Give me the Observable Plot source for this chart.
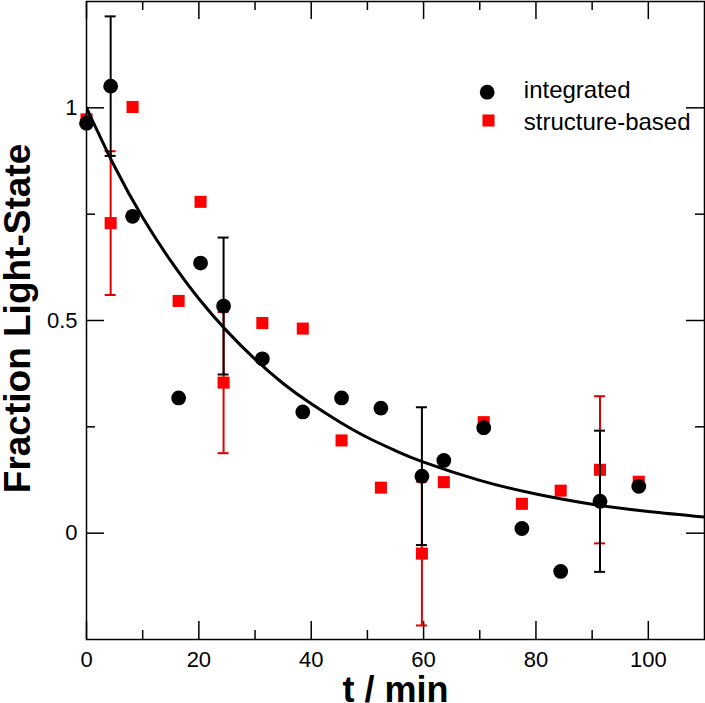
<!DOCTYPE html>
<html><head><meta charset="utf-8">
<script src="https://cdn.jsdelivr.net/npm/d3@7"></script>
<script src="https://cdn.jsdelivr.net/npm/@observablehq/plot@0.6"></script>
<style>body{margin:0;background:#fff}</style>
</head><body><div id="chart"></div>
<script>
// ---- data ----
const times = [0, 4.3, 8.2, 16.4, 20.3, 24.4, 31.3, 38.5, 45.4, 52.4, 59.7, 63.6, 70.7, 77.5, 84.4, 91.4, 98.3];
const integrated = [0.964, 1.051, 0.745, 0.318, 0.635, 0.534, 0.410, 0.285, 0.318, 0.294, 0.134, 0.171, 0.248, 0.011, -0.090, 0.075, 0.110];
const structureBased = [0.973, 0.729, 1.002, 0.546, 0.779, 0.354, 0.494, 0.481, 0.218, 0.107, -0.048, 0.120, 0.261, 0.069, 0.100, 0.149, 0.121];
const integratedErr = [null, 0.164, null, null, null, 0.161, null, null, null, null, 0.162, null, null, null, null, 0.166, null];
const structureErr = [null, 0.169, null, null, null, 0.166, null, null, null, null, 0.169, null, null, null, null, 0.173, null];
const fitT = [0, 5, 10, 15, 20, 25, 30, 35, 40, 45, 50, 55, 60, 70, 80, 90, 100, 110];
const fitF = [1.00, 0.862, 0.742, 0.640, 0.551, 0.475, 0.409, 0.352, 0.304, 0.262, 0.225, 0.194, 0.167, 0.124, 0.092, 0.068, 0.051, 0.038];
const xMajor = [0, 20, 40, 60, 80, 100];
const xMinor = [10, 30, 50, 70, 90];
const yMajor = [0, 0.5, 1];
const yMinor = [0.25, 0.75];
const seriesNames = ["integrated", "structure-based"];
const xLabel = "t / min";
const yLabel = "Fraction Light-State";

// ---- tables ----
const rows = times.map((t, i) => ({t, integ: integrated[i], struct: structureBased[i], ie: integratedErr[i], se: structureErr[i]}));
const iErr = rows.filter(d => d.ie != null);
const sErr = rows.filter(d => d.se != null);
const fit = fitT.map((t, i) => ({t, f: fitF[i]}));

const W = 705, H = 703, mL = 86, mR = 1, mT = 1, mB = 64;
const pw = W - mL - mR, ph = H - mT - mB;
const RED = "#ff0000", REDBAR = "#e00000";
const FONT = "'Liberation Sans', Arial, Helvetica, sans-serif";
const tk = {stroke: "black", strokeWidth: 1.5};

function errMarks(data, yk, ek, color) {
  return [
    Plot.ruleX(data, {x: "t", y1: d => d[yk] - d[ek], y2: d => d[yk] + d[ek], stroke: color, strokeWidth: 2}),
    Plot.ruleY(data, {y: d => d[yk] + d[ek], x1: "t", x2: "t", insetLeft: -5.5, insetRight: -5.5, stroke: color, strokeWidth: 2}),
    Plot.ruleY(data, {y: d => d[yk] - d[ek], x1: "t", x2: "t", insetLeft: -5.5, insetRight: -5.5, stroke: color, strokeWidth: 2})
  ];
}

const chart = Plot.plot({
  width: W, height: H,
  marginLeft: mL, marginRight: mR, marginTop: mT, marginBottom: mB,
  style: {fontFamily: FONT, fontSize: "22px", color: "black", background: "white"},
  x: {domain: [0, 110], label: null},
  y: {domain: [-0.25, 1.25], label: null},
  marks: [
    Plot.axisX({ticks: xMajor, tickSize: 0, tickPadding: 12, label: null, fill: "black", tickFormat: d => String(d)}),
    Plot.axisY({ticks: yMajor, tickSize: 0, tickPadding: 9, label: null, fill: "black", tickFormat: d => String(d)}),
    // inward ticks on all four sides
    Plot.tickX(xMajor, {x: d => d, insetTop: ph - 18, ...tk}),
    Plot.tickX(xMinor, {x: d => d, insetTop: ph - 9, ...tk}),
    Plot.tickX(xMajor, {x: d => d, insetBottom: ph - 18, ...tk}),
    Plot.tickX(xMinor, {x: d => d, insetBottom: ph - 9, ...tk}),
    Plot.tickY(yMajor, {y: d => d, insetRight: pw - 18, ...tk}),
    Plot.tickY(yMinor, {y: d => d, insetRight: pw - 9, ...tk}),
    Plot.tickY(yMajor, {y: d => d, insetLeft: pw - 18, ...tk}),
    Plot.tickY(yMinor, {y: d => d, insetLeft: pw - 9, ...tk}),
    // structure-based
    ...errMarks(sErr, "struct", "se", REDBAR),
    Plot.dot(rows, {x: "t", y: "struct", symbol: "square", r: 6.8, fill: RED, stroke: "none"}),
    // fit curve
    Plot.line(fit, {x: "t", y: "f", curve: "natural", stroke: "black", strokeWidth: 3, clip: true}),
    // integrated
    ...errMarks(iErr, "integ", "ie", "black"),
    Plot.dot(rows, {x: "t", y: "integ", r: 7.4, fill: "black", stroke: "none"}),
    Plot.frame({stroke: "black", strokeWidth: 1.5}),
    // legend
    Plot.dot([seriesNames[0]], {frameAnchor: "top-left", dx: 400.7, dy: 90.7, r: 7.4, fill: "black"}),
    Plot.dot([seriesNames[1]], {frameAnchor: "top-left", dx: 402, dy: 119, r: 6.8, symbol: "square", fill: RED}),
    Plot.text([seriesNames[0]], {frameAnchor: "top-left", text: d => d, dx: 437.3, dy: 89, textAnchor: "start", lineAnchor: "middle", fontSize: 24, fill: "black"}),
    Plot.text([seriesNames[1]], {frameAnchor: "top-left", text: d => d, dx: 437.3, dy: 120.6, textAnchor: "start", lineAnchor: "middle", fontSize: 24, fill: "black"}),
    // axis titles
    Plot.text([xLabel], {frameAnchor: "bottom", text: d => d, dy: 62, textAnchor: "middle", lineAnchor: "bottom", fontSize: 36, fontWeight: "bold", fill: "black"}),
    Plot.text([yLabel], {frameAnchor: "left", text: d => d, dx: -57, dy: -2, rotate: -90, textAnchor: "middle", lineAnchor: "bottom", fontSize: 37, fontWeight: "bold", fill: "black"})
  ]
});
document.getElementById("chart").appendChild(chart);
</script>
</body></html>
